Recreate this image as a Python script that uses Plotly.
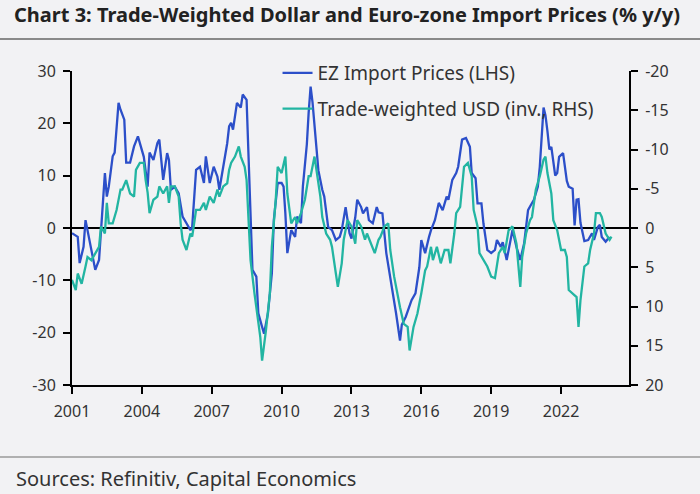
import plotly.graph_objects as go

# ---- data ----
ez_dates = ["2001-01","2001-04","2001-05","2001-07","2001-08","2001-09","2001-11",
            "2002-01","2002-03","2002-04","2002-06","2002-07","2002-08","2002-10","2002-11",
            "2003-01","2003-02","2003-04","2003-05","2003-07","2003-09","2003-11",
            "2004-02","2004-04","2004-05","2004-07","2004-09","2004-10","2004-12",
            "2005-02","2005-03","2005-04","2005-06","2005-08","2005-10","2005-12",
            "2006-02","2006-03","2006-05","2006-07","2006-09","2006-10","2006-12",
            "2007-02","2007-04","2007-05","2007-07","2007-09","2007-10","2007-11","2007-12",
            "2008-02","2008-04","2008-05","2008-07","2008-08","2008-09","2008-10","2008-12",
            "2009-01","2009-03","2009-04","2009-06","2009-08","2009-09","2009-11",
            "2010-01","2010-02","2010-03","2010-04","2010-06","2010-08","2010-09","2010-11","2010-12",
            "2011-02","2011-03","2011-04","2011-05","2011-06","2011-07","2011-08","2011-10","2011-11",
            "2012-01","2012-03","2012-05","2012-07","2012-08","2012-10","2012-12",
            "2013-01","2013-03","2013-04","2013-06","2013-07","2013-09","2013-10","2013-12",
            "2014-02","2014-03","2014-05","2014-07","2014-10","2014-12",
            "2015-02","2015-03","2015-05","2015-07","2015-08","2015-10","2015-12",
            "2016-01","2016-03","2016-05","2016-06","2016-08","2016-10","2016-12",
            "2017-02","2017-03","2017-05","2017-07","2017-08","2017-10","2017-12",
            "2018-02","2018-03","2018-05","2018-06","2018-08","2018-09","2018-11",
            "2019-01","2019-03","2019-04","2019-06","2019-07","2019-09","2019-11","2019-12",
            "2020-02","2020-04","2020-06","2020-08","2020-09","2020-11",
            "2021-01","2021-02","2021-04","2021-05","2021-06","2021-07","2021-08","2021-10","2021-11","2021-12",
            "2022-02","2022-04","2022-05","2022-07","2022-08","2022-09","2022-10","2022-11",
            "2023-01","2023-03","2023-05","2023-06","2023-08","2023-09","2023-10","2023-12",
            "2024-02"]
ez_import = [-1.0,-1.7,-6.7,-3.6,1.5,-0.4,-3.6,
             -8.0,-6.1,-0.4,10.5,6.0,7.9,13.7,14.4,
             23.9,22.6,20.7,12.5,12.5,15.6,17.5,
             13.6,7.9,14.4,13.0,16.2,16.9,9.2,
             14.3,13.0,7.3,7.9,6.6,2.2,0.9,
             -0.4,0.2,11.1,11.7,8.6,13.7,8.6,
             11.7,9.8,7.3,11.7,16.2,19.4,20.1,18.8,
             23.9,23.0,25.5,24.5,13.0,3.4,-8.0,-9.3,
             -16.3,-18.9,-20.2,-16.3,-8.7,1.5,8.6,
             8.6,7.9,2.8,-4.8,-0.4,-1.7,2.2,0.9,8.0,
             16.0,22.0,27.0,24.0,19.5,15.0,11.0,7.3,6.0,
             0.2,-0.4,-2.3,-1.7,-0.4,4.0,-1.0,
             -2.0,2.0,5.4,4.0,2.8,4.0,1.5,0.9,
             4.0,3.0,2.8,-4.8,-11.3,-16.3,
             -21.5,-18.5,-17.0,-15.0,-13.8,-12.5,-7.5,
             -2.3,-4.8,-1.7,-0.4,1.5,4.8,3.4,
             6.0,5.4,9.2,10.5,11.7,16.9,17.2,
             15.5,10.5,9.5,4.7,4.7,0.9,-4.2,
             -4.8,-4.2,-2.3,-3.6,-2.7,-6.1,-2.3,-0.4,
             -3.6,-6.1,-2.9,3.4,4.1,5.4,
             7.9,11.7,23.0,21.5,18.5,15.0,15.5,10.0,10.5,13.6,
             14.3,9.0,7.9,7.5,0.5,5.4,5.5,1.0,
             -2.5,-2.3,-1.0,-2.3,0.2,0.6,-1.7,-2.6,
             -1.7]

usd_dates = ["2001-01","2001-03","2001-04","2001-06","2001-08","2001-09","2001-11",
             "2002-01","2002-03","2002-04","2002-06","2002-07","2002-08","2002-10","2002-12",
             "2003-02","2003-03","2003-05","2003-07","2003-09","2003-10","2003-12",
             "2004-02","2004-03","2004-04","2004-05","2004-07","2004-09","2004-10","2004-12",
             "2005-02","2005-03","2005-04","2005-06","2005-08","2005-09","2005-10","2005-12",
             "2006-02","2006-03","2006-05","2006-07","2006-09","2006-10","2006-12",
             "2007-02","2007-04","2007-05","2007-07","2007-09","2007-10","2007-11",
             "2008-01","2008-03","2008-04","2008-06","2008-07","2008-08","2008-09","2008-11",
             "2009-01","2009-02","2009-03","2009-05","2009-07","2009-08","2009-10","2009-11",
             "2010-01","2010-02","2010-03","2010-04","2010-06","2010-08","2010-09","2010-11",
             "2011-01","2011-03","2011-04","2011-06","2011-09","2011-10","2011-12",
             "2012-02","2012-03","2012-05","2012-06","2012-08","2012-09","2012-11",
             "2013-01","2013-03","2013-04","2013-06","2013-08","2013-09","2013-11",
             "2014-01","2014-03","2014-04","2014-06","2014-08","2014-09","2014-11",
             "2015-02","2015-04","2015-06","2015-07","2015-09","2015-11",
             "2016-01","2016-03","2016-04","2016-06","2016-07","2016-09","2016-11",
             "2017-01","2017-03","2017-04","2017-06","2017-07","2017-09","2017-11",
             "2018-01","2018-03","2018-04","2018-06","2018-07","2018-09","2018-11",
             "2019-01","2019-03","2019-05","2019-07","2019-08","2019-10","2019-12",
             "2020-02","2020-04","2020-05","2020-07","2020-09","2020-10","2020-12",
             "2021-02","2021-04","2021-05","2021-06","2021-08","2021-09","2021-11",
             "2022-01","2022-03","2022-04","2022-05","2022-07","2022-09","2022-10","2022-11",
             "2023-01","2023-03","2023-04","2023-06","2023-07","2023-09","2023-10","2023-12",
             "2024-02","2024-03"]
usd_twi = [6.6,7.9,5.8,7.1,4.9,3.7,4.1,
           3.2,2.4,-0.2,0.7,-3.2,-0.6,-0.6,-2.3,
           -4.9,-4.9,-6.1,-4.4,-4.0,-7.4,-8.3,
           -8.3,-6.1,-4.5,-1.9,-3.6,-4.0,-5.3,-4.4,
           -5.3,-3.2,-5.3,-5.3,-4.0,-0.6,1.5,2.8,
           0.7,1.1,-2.3,-2.3,-3.2,-2.3,-4.0,
           -3.2,-4.9,-4.0,-5.3,-5.7,-7.4,-8.3,
           -9.1,-10.4,-9.1,-7.8,-6.1,-1.0,4.1,8.3,
           11.7,13.9,16.9,13.0,8.3,2.4,-3.6,-7.8,
           -7.0,-8.3,-9.1,-4.4,-0.6,-1.4,-0.6,-1.9,
           -3.6,-6.6,-6.6,-9.1,-4.0,-1.4,0.7,
           1.5,2.4,5.8,7.5,4.5,1.5,-1.0,
           -0.2,2.0,-1.0,-0.2,1.5,0.7,2.0,
           3.2,1.5,1.1,-0.2,-0.6,2.8,6.2,
           10.1,12.2,12.6,15.6,12.6,10.9,
           8.3,5.4,4.9,2.4,4.1,2.4,4.5,
           2.8,2.8,4.5,0.7,-1.9,-2.7,-7.8,
           -8.3,-6.6,-2.3,-0.2,3.2,4.1,4.9,
           6.2,6.4,3.2,2.4,3.2,0.3,-0.2,
           2.0,7.5,3.7,0.7,-1.0,-1.4,-4.9,
           -6.6,-8.7,-9.1,-7.0,-4.4,-1.0,0.3,
           2.8,2.8,3.7,7.9,8.3,8.8,12.6,9.2,
           4.9,4.5,2.8,0.7,-1.9,-1.9,-1.4,0.7,
           1.5,1.1]

x_tick_years = ["2001","2004","2007","2010","2013","2016","2019","2022"]
lhs_ticks = [30, 20, 10, 0, -10, -20, -30]
rhs_ticks = [-20, -15, -10, -5, 0, 5, 10, 15, 20]

BLUE = "#2c4fc9"
TEAL = "#22b5a2"
BG = "#f2f2f4"
FONT = "Noto Sans"

fig = go.Figure()
fig.add_trace(go.Scatter(x=ez_dates, y=ez_import, mode="lines",
                         name="EZ Import Prices (LHS)", legendgroup="a",
                         line=dict(color=BLUE, width=2.3)))
fig.add_trace(go.Scatter(x=usd_dates, y=usd_twi, mode="lines",
                         name="Trade-weighted USD (inv., RHS)", legendgroup="b",
                         line=dict(color=TEAL, width=2.3), yaxis="y2"))

axis_common = dict(showline=True, linecolor="black", linewidth=2, ticks="outside",
                   ticklen=7, tickwidth=2, tickcolor="black", showgrid=False,
                   tickfont=dict(family=FONT, size=16, color="#333333"))

fig.update_layout(
    width=700, height=494,
    paper_bgcolor=BG, plot_bgcolor=BG,
    margin=dict(l=72, r=71, t=71, b=109, autoexpand=False),
    font=dict(family=FONT, color="#333333"),
    title=dict(text="<b>Chart 3: Trade-Weighted Dollar and Euro-zone Import Prices (% y/y)</b>",
               x=14/700, xanchor="left", xref="container",
               y=1-15/494, yanchor="middle", yref="container",
               font=dict(family=FONT, size=20, color="#222222")),
    xaxis=dict(type="date", range=["2001-01-01", "2024-12-01"],
               tickvals=[y + "-01-01" for y in x_tick_years], ticktext=x_tick_years,
               ticklabelstandoff=4, **axis_common),
    yaxis=dict(range=[-30, 30], tickvals=lhs_ticks,
               ticktext=[str(v) for v in lhs_ticks],
               zeroline=True, zerolinecolor="black", zerolinewidth=2,
               ticklabelstandoff=4, **axis_common),
    yaxis2=dict(range=[20, -20], overlaying="y", side="right",
                tickvals=rhs_ticks, ticktext=[str(v) for v in rhs_ticks],
                zeroline=False, ticklabelstandoff=4, **axis_common),
    legend=dict(x=0.369, y=(385-54)/314, xanchor="left", yanchor="top",
                bgcolor="rgba(0,0,0,0)", tracegroupgap=8,
                font=dict(family=FONT, size=19, color="#333333")),
    shapes=[
        dict(type="line", xref="paper", yref="paper", x0=-0.2, x1=1.2,
             y0=(385-39)/314, y1=(385-39)/314, line=dict(color="#8a8a8a", width=2)),
        dict(type="line", xref="paper", yref="paper", x0=-0.2, x1=1.2,
             y0=(385-457)/314, y1=(385-457)/314, line=dict(color="#9a9a9a", width=1.5)),
    ],
    annotations=[
        dict(text="Sources: Refinitiv, Capital Economics", xref="paper", yref="paper",
             x=(14-72)/557, y=(385-478)/314, xanchor="left", yanchor="middle",
             showarrow=False, font=dict(family=FONT, size=20, color="#333333")),
    ],
)

fig.write_html("out.html", config={"displayModeBar": False},
               post_script="document.body.style.margin='0';document.body.style.padding='0';")
